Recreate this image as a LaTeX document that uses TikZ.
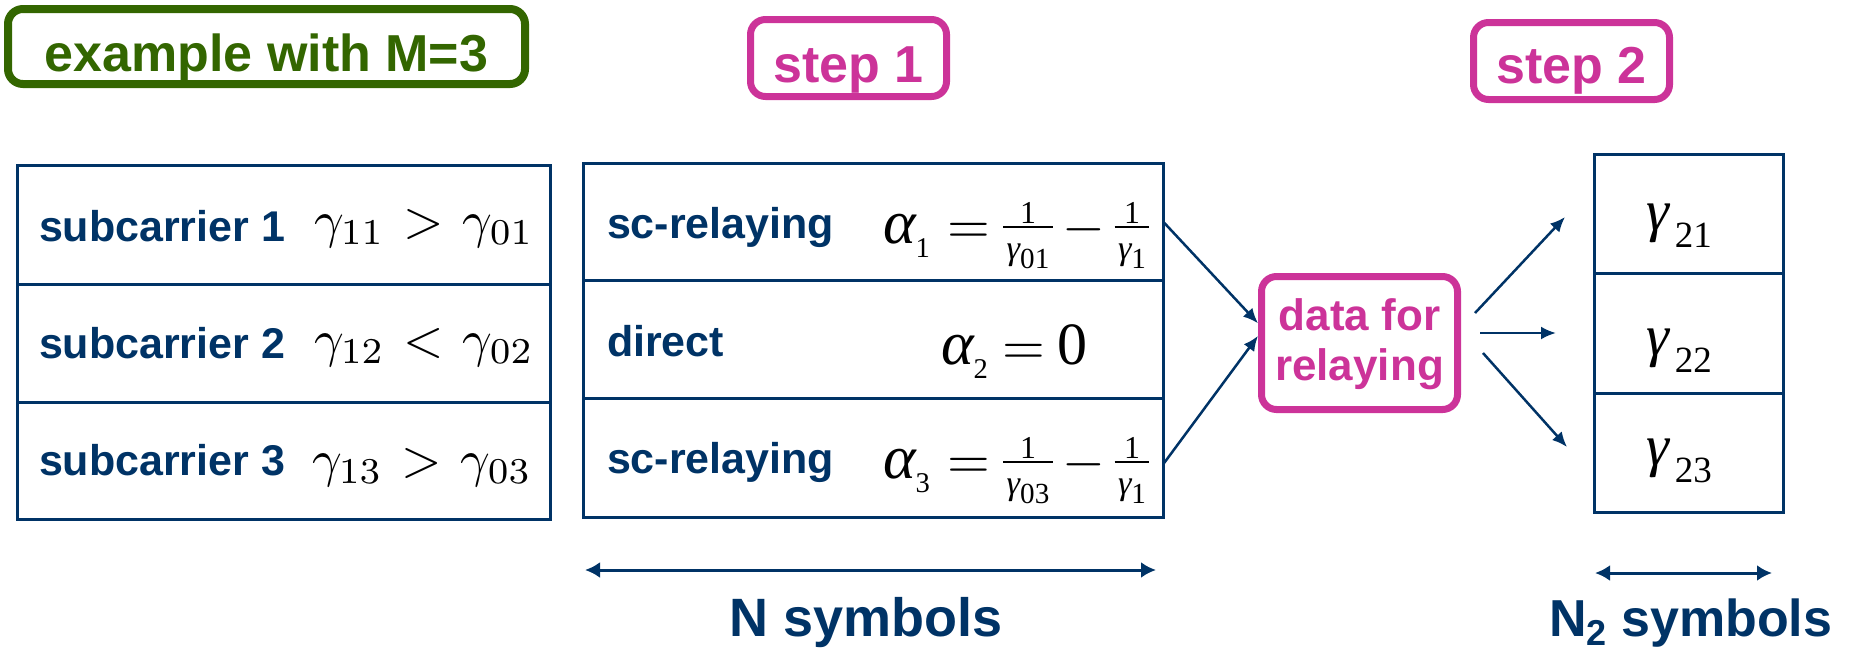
\documentclass[tikz,border=0pt]{standalone}
\usepackage{graphicx}
\usepackage[no-math]{fontspec}
\setmainfont{Liberation Sans}
\newfontfamily\tms{Liberation Serif}
\usetikzlibrary{arrows.meta}
\definecolor{navy}{HTML}{003366}
\definecolor{grn}{HTML}{336600}
\definecolor{mag}{HTML}{CC3399}
\newcommand\fsz[1]{\fontsize{#1}{#1}\selectfont}
\newcommand\galpha{{\fsz{11.3}\tms\itshape α}}
\newcommand\asub[1]{\raisebox{-1.1pt}{\fsz{5.2}\tms #1}}
\newcommand\dfr[1]{\raisebox{0.41pt}{$\frac{\raisebox{-0.9pt}{\fsz{5.8}\tms 1}}{\kern0.6pt\mbox{\fsz{6.2}\tms\itshape γ}\raisebox{-1.6pt}{\fsz{5.3}\tms #1}\kern0.6pt}$}}
\newcommand\leftm[1]{\scalebox{5.2}{\fsz{10}$#1$}}
\newcommand\gsub[1]{{\fsz{58}\tms\itshape γ}\kern6pt\raisebox{-17pt}{\fsz{37}\tms #1}}
\begin{document}
\begin{tikzpicture}[x=1pt,y=-1pt,
  tbl/.style={draw=navy,line width=3pt,inner sep=0pt,outer sep=0pt},
  txt/.style={inner sep=0pt,outer sep=0pt,anchor=base west,text=navy,font=\fsz{43}\bfseries},
  mth/.style={inner sep=0pt,outer sep=0pt,anchor=base west,text=black},
  tag/.style={draw=#1,text=#1,line width=7pt,rounded corners=15pt,inner sep=0pt,font=\fsz{52}\bfseries,text depth=0pt},
  conn/.style={draw=navy,line width=2.5pt,-{Latex[length=15pt,width=13pt]}},
  span/.style={draw=navy,line width=3pt,{Latex[length=15pt,width=16pt]}-{Latex[length=15pt,width=16pt]}},
  lab/.style={inner sep=0pt,text=navy,font=\fsz{54}\bfseries},
]
\useasboundingbox (0,0) rectangle (1850,649);

% tags
\node[tag=grn, line width=8pt, minimum width=517pt, minimum height=75pt, text height=49pt] (ex) at (266.5,46.5) {example with M=3};
\node[tag=mag, minimum width=196pt, minimum height=77pt, text height=48pt] (s1) at (848.5,58) {step 1};
\node[tag=mag, minimum width=196pt, minimum height=77pt, text height=44pt] (s2) at (1571.5,61) {step 2};

% left table
\node[tbl, minimum width=533pt, minimum height=119pt] (L1) at (283.5,224.5) {};
\node[tbl, minimum width=533pt, minimum height=118pt] (L2) at (283.5,343) {};
\node[tbl, minimum width=533pt, minimum height=117pt] (L3) at (283.5,460.5) {};
\node[txt] (L1t) at (39,241) {subcarrier 1};
\node[txt] (L2t) at (39,358) {subcarrier 2};
\node[txt] (L3t) at (39,475) {subcarrier 3};
\node[mth] (L1m) at (314,237) {\leftm{\gamma_{11}\mkern1.5mu>\mkern1.5mu\gamma_{01}}};
\node[mth] (L2m) at (314,356) {\leftm{\gamma_{12}\mkern1.5mu<\mkern1.5mu\gamma_{02}}};
\node[mth] (L3m) at (312,476) {\leftm{\gamma_{13}\mkern1.5mu>\mkern1.5mu\gamma_{03}}};

% middle table
\node[tbl, minimum width=580pt, minimum height=117pt] (M1) at (873,221.5) {};
\node[tbl, minimum width=580pt, minimum height=118pt] (M2) at (873,339) {};
\node[tbl, minimum width=580pt, minimum height=119pt] (M3) at (873,457.5) {};
\node[txt] (M1t) at (607,238) {sc-relaying};
\node[txt] (M2t) at (607,356) {direct};
\node[txt] (M3t) at (607,473) {sc-relaying};
\node[mth] (M1m) at (883,243) {\scalebox{5.5}{\fsz{10}$\mbox{\galpha}_{\asub{1}} = \mkern-3mu\dfr{01}\mkern-3mu-\mkern-3mu\dfr{1}$}};
\node[mth] (M2m) at (941,364) {\scalebox{5.5}{\fsz{10}$\mbox{\galpha}_{\raisebox{-1.2pt}{\fsz{5.2}\tms 2}}\mkern-1mu=\mkern-1mu\mbox{\fsz{10.9}\tms 0}$}};
\node[mth] (M3m) at (883,478) {\scalebox{5.5}{\fsz{10}$\mbox{\galpha}_{\asub{3}} = \mkern-3mu\dfr{03}\mkern-3mu-\mkern-3mu\dfr{1}$}};

% data box
\node[tag=mag, minimum width=196pt, minimum height=133pt] (data) at (1359.5,343) {};
\node[inner sep=0pt, anchor=base, text=mag, font=\fsz{44}\bfseries] (dataA) at (1359.5,330) {data for};
\node[inner sep=0pt, anchor=base, text=mag, font=\fsz{44}\bfseries] (dataB) at (1359.5,380) {relaying};

% right table
\node[tbl, minimum width=189pt, minimum height=119pt] (R1) at (1688.5,213.5) {};
\node[tbl, minimum width=189pt, minimum height=120pt] (R2) at (1688.5,333) {};
\node[tbl, minimum width=189pt, minimum height=119pt] (R3) at (1688.5,452.5) {};
\node[mth] (R1m) at (1646,230) {\gsub{21}};
\node[mth] (R2m) at (1646,355) {\gsub{22}};
\node[mth] (R3m) at (1646,465) {\gsub{23}};

% connectors
\draw[conn] (M1.east) -- (data.169);
\draw[conn] ([yshift=-7pt]M3.east) -- (data.176);
\draw[conn] ([shift={(14pt,30pt)}]data.east) -- ([shift={(-29pt,-3.5pt)}]R1.west);
\draw[conn] ([shift={(19pt,10pt)}]data.east) -- ([shift={(-38pt,0pt)}]R2.west);
\draw[conn] ([shift={(22pt,-10pt)}]data.east) -- ([shift={(-27pt,5.5pt)}]R3.west);

% spans
\coordinate (nA) at (585,570);
\coordinate (nB) at (1156,570);
\draw[span] (nA) -- (nB);
\coordinate (n2A) at (1595,573);
\coordinate (n2B) at (1772,573);
\draw[span] (n2A) -- (n2B);
\node[lab, anchor=base] (nlab) at (866,636) {N symbols};
\node[lab, font=\fsz{52}\bfseries, anchor=base west] (n2lab) at (1549,636) {N\raisebox{-9pt}{\fsz{36}2} symbols};
\end{tikzpicture}
\end{document}
